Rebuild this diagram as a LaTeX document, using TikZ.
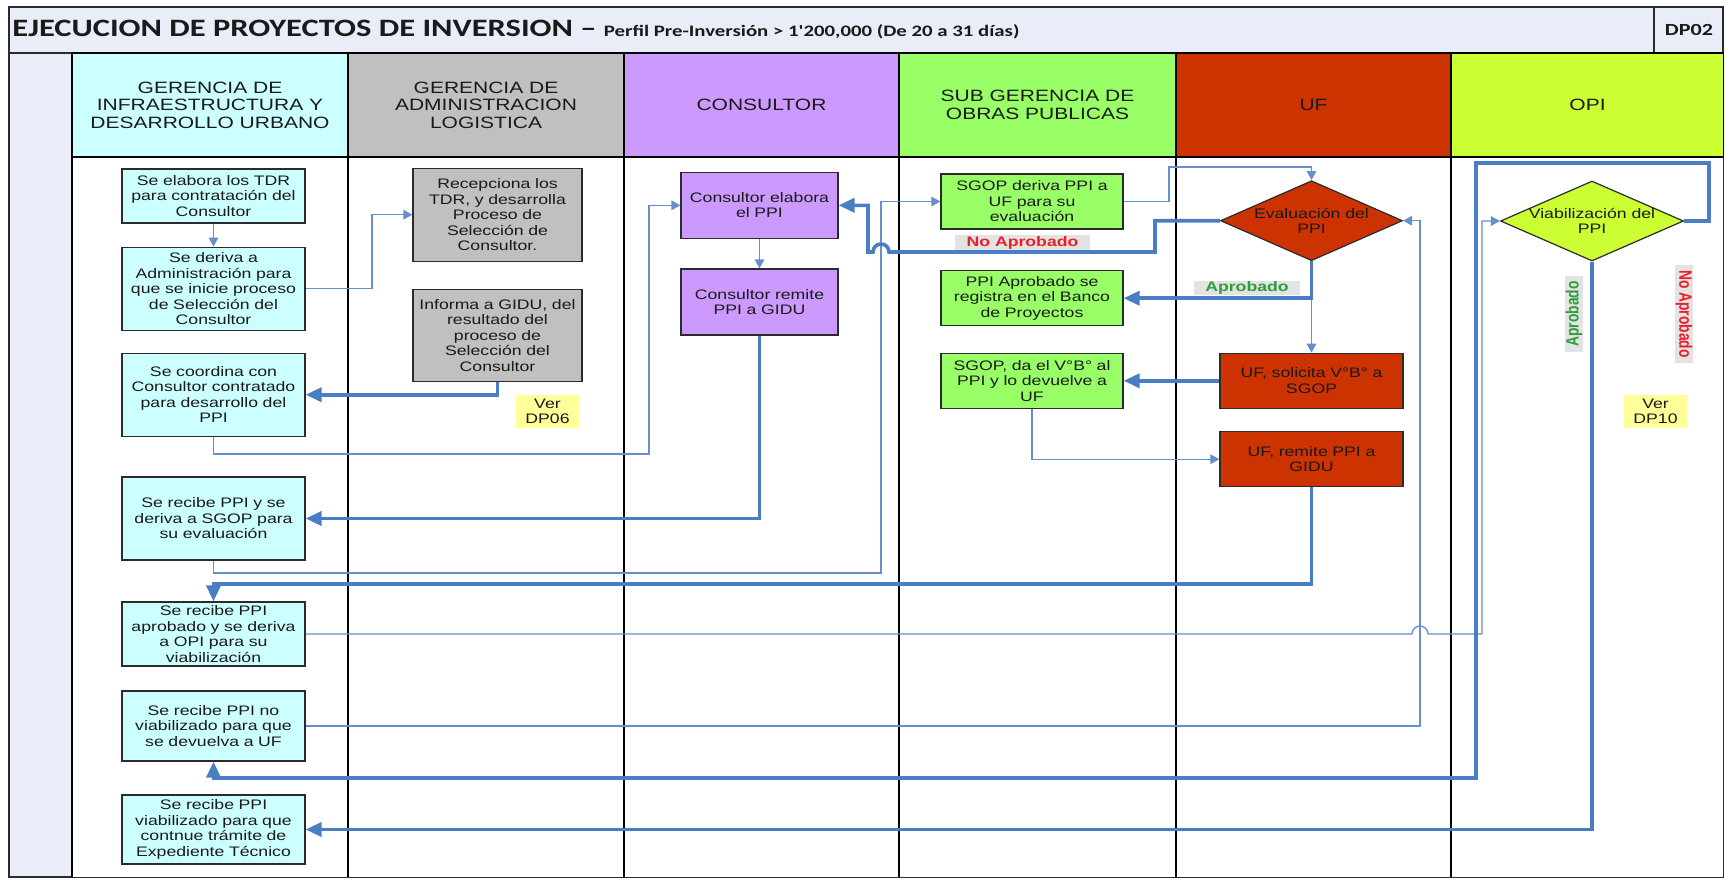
\documentclass[tikz,border=0pt]{standalone}
\usepackage{fontspec}
\setmainfont{Liberation Sans}[FakeStretch=1.28]
\newfontfamily\titulofont{Carlito}[FakeStretch=1.3]
\newfontfamily\girofont{Liberation Sans}
\usetikzlibrary{shapes.geometric,arrows.meta}
\definecolor{fondo}{HTML}{E9EDF7}
\definecolor{borde}{HTML}{2B2B2B}
\definecolor{texto}{HTML}{1A1A1A}
\definecolor{gidu}{HTML}{CCFFFF}
\definecolor{gal}{HTML}{C0C0C0}
\definecolor{cons}{HTML}{CC99FF}
\definecolor{sgop}{HTML}{99FF66}
\definecolor{uf}{HTML}{CC3300}
\definecolor{opi}{HTML}{CCFF33}
\definecolor{azul}{HTML}{4A7EC4}
\definecolor{azulc}{HTML}{6690CC}
\definecolor{rojo}{HTML}{E8202A}
\definecolor{verde}{HTML}{2E9E3A}
\definecolor{notaam}{HTML}{FFFF99}
\newcommand{\girado}[1]{\scalebox{1}[1.3]{#1}}
\begin{document}
\begin{tikzpicture}[x=0.5pt, y=-0.5pt,
                caja/.style={draw=borde, line width=0.6pt, inner xsep=0pt, inner ysep=0pt, align=center, text=texto, font=\fontsize{6.9}{7.75}\selectfont},
                cgidu/.style={caja, fill=gidu, text width=91.5pt},
                cgal/.style={caja, fill=gal, text width=84.5pt},
                ccons/.style={caja, fill=cons, text width=78.5pt},
                csgop/.style={caja, fill=sgop, text width=91pt},
                cuf/.style={caja, fill=uf, text width=91.5pt},
                decision/.style={diamond, draw=borde, line width=0.6pt, inner sep=0pt, minimum width=91pt, minimum height=40pt},
                dtexto/.style={align=center, inner sep=0pt, text=texto, font=\fontsize{6.9}{7.75}\selectfont},
                cabecera/.style={draw=black, line width=0.7pt, minimum width=138pt, minimum height=52pt, inner sep=0pt, align=center, text=texto, font=\fontsize{8.2}{8.8}\selectfont},
                etiqueta/.style={fill=gray!22, inner xsep=0pt, inner ysep=0.3pt, font=\bfseries\fontsize{6.9}{7}\selectfont},
                etigiro/.style={fill=gray!22, inner xsep=2.7pt, inner ysep=0.4pt, font=\girofont\bfseries\fontsize{6.9}{7}\selectfont},
                nota/.style={fill=notaam, align=center, text=texto, minimum width=31.5pt, minimum height=16.5pt, inner sep=0pt, font=\fontsize{6.9}{7.75}\selectfont},
                flujo/.style={draw=azulc, line width=0.65pt, -{Triangle[length=4.5pt,width=4.8pt]}},
                flujog/.style={draw=azul, line width=1.8pt, -{Triangle[length=8pt,width=7pt]}}]
                \useasboundingbox (0,0) rectangle (1726,880);
                \draw[fill=fondo, draw=borde, line width=0.7pt] (9,7) rectangle (1723,877);
                \draw[draw=borde, line width=0.7pt] (9,53) -- (1723,53);
                \draw[draw=borde, line width=0.7pt] (1654,7) -- (1654,53);
                \fill[white] (72,157) rectangle (1723,877);

                \node (T1) [anchor=base west, inner sep=0pt, text=texto, font=\titulofont\bfseries] at (12,36)
                {\fontsize{12.5}{14}\selectfont EJECUCION DE PROYECTOS DE INVERSION – {\fontsize{8}{9}\selectfont Perfil Pre-Inversión > 1'200,000 (De 20 a 31 días)}};
                \node (T2) [text=texto, font=\titulofont\bfseries\fontsize{8.5}{9}\selectfont] at (1689,30) {DP02};

                \node (H1) [cabecera, fill=gidu] at (210,105) {GERENCIA DE\\INFRAESTRUCTURA Y\\DESARROLLO URBANO};
                \node (H2) [cabecera, fill=gal] at (486,105) {GERENCIA DE\\ADMINISTRACION\\LOGISTICA};
                \node (H3) [cabecera, fill=cons] at (761.5,105) {CONSULTOR};
                \node (H4) [cabecera, fill=sgop] at (1037.5,105) {SUB GERENCIA DE\\OBRAS PUBLICAS};
                \node (H5) [cabecera, fill=uf] at (1313.5,105) {UF};
                \node (H6) [cabecera, fill=opi, minimum width=136pt] at (1587.5,105) {OPI};
                \foreach \x in {72,348,624,899,1176,1451}
                    \draw[line width=0.75pt] (\x,53) -- (\x,877);

                \node (G1) [cgidu, minimum height=27pt] at (213.5,196) {Se elabora los TDR\\para contratación del\\Consultor};
                \node (G2) [cgidu, minimum height=41.5pt] at (213.5,288.7) {Se deriva a\\Administración para\\que se inicie proceso\\de Selección del\\Consultor};
                \node (G3) [cgidu, minimum height=41.5pt] at (213.5,394.7) {Se coordina con\\Consultor contratado\\para desarrollo del\\PPI};
                \node (G4) [cgidu, minimum height=41.5pt] at (213.5,518.5) {Se recibe PPI y se\\deriva a SGOP para\\su evaluación};
                \node (G5) [cgidu, minimum height=32pt] at (213.5,634) {Se recibe PPI\\aprobado y se deriva\\a OPI para su\\viabilización};
                \node (G6) [cgidu, minimum height=35pt] at (213.5,726) {Se recibe PPI no\\viabilizado para que\\se devuelva a UF};
                \node (G7) [cgidu, minimum height=34.5pt] at (213.5,829.5) {Se recibe PPI\\viabilizado para que\\contnue trámite de\\Expediente Técnico};

                \node (A1) [cgal, minimum height=46.5pt] at (497.5,214.7) {Recepciona los\\TDR, y desarrolla\\Proceso de\\Selección de\\Consultor.};
                \node (A2) [cgal, minimum height=46pt] at (497.5,335.2) {Informa a GIDU, del\\resultado del\\proceso de\\Selección del\\Consultor};
                \node (V1) [nota] at (547.5,411.5) {Ver\\DP06};

                \node (C1) [ccons, minimum height=33pt] at (759.5,205.3) {Consultor elabora\\el PPI};
                \node (C2) [ccons, minimum height=33pt] at (759.5,302) {Consultor remite\\PPI a GIDU};

                \node (S1) [csgop, minimum height=27.5pt] at (1032,201.5) {SGOP deriva PPI a\\UF para su\\evaluación};
                \node (S2) [csgop, minimum height=27.5pt] at (1032,298.2) {PPI Aprobado se\\registra en el Banco\\de Proyectos};
                \node (S3) [csgop, minimum height=27.5pt] at (1032,380.8) {SGOP, da el V°B° al\\PPI y lo devuelve a\\UF};

                \node (D1) [decision, fill=uf] at (1311.5,220.7) {};
                \node (D1t) [dtexto] at (D1) {Evaluación del\\PPI};
                \node (U1) [cuf, minimum height=27.5pt] at (1311.5,380.8) {UF, solicita V°B° a\\SGOP};
                \node (U2) [cuf, minimum height=27.5pt] at (1311.5,459.2) {UF, remite PPI a\\GIDU};

                \node (D2) [decision, fill=opi, minimum width=91.5pt] at (1592,221) {};
                \node (D2t) [dtexto] at (D2) {Viabilización del\\PPI};
                \node (V2) [nota] at (1655.5,411.5) {Ver\\DP10};

                \node (L1) [etiqueta, text=rojo, minimum width=67.5pt] at (1022.5,242.5) {No Aprobado};
                \node (L2) [etiqueta, text=verde, minimum width=53pt] at (1247,288) {Aprobado};
                \node (L3) [etigiro, text=verde, rotate=90] at (1574,314) {\girado{Aprobado}};
                \node (L4) [etigiro, text=rojo, rotate=-90] at (1684,314) {\girado{No Aprobado}};

                \draw[flujo] (G1) -- (G2);
                \draw[flujo] (G2.east) -- (372,288.7) |- (A1.west);
                \draw[flujog] (A2.south) |- (G3.east);
                \draw[flujo] (G3.south) |- (649,454) |- (C1.west);
                \draw[flujo] (C1) -- (C2);
                \draw[flujog] (C2.south) |- (G4.east);
                \draw[flujo] (G4.south) |- (881,573) |- (S1.west);
                \draw[flujo] (S1.east) -| (1169,167) -| (D1.north);
                \draw[flujog] (D1.west) -| (1155,252) -- (889,252) arc[start angle=0, end angle=-180, radius=8] -- (868,252) |- (C1.east);
                \draw[flujo] (D1.south) -- (U1.north);
                \draw[flujog] (D1.south) |- (S2.east);
                \draw[flujog] (U1.west) -- (S3.east);
                \draw[flujo] (S3.south) |- (U2.west);
                \draw[flujog] (U2.south) -- (1311.5,584) -| (G5.north);
                \draw[flujo] (G5.east) -- (1412,634) arc[start angle=180, end angle=360, radius=8] -- (1482,634) |- (D2.west);
                \draw[flujo] (G6.east) -- (1420,726) |- (D1.east);
                \draw[flujog] (D2.east) -- (1709,221) |- (1476,163) -- (1476,778) -| (G6.south);
                \draw[flujog] (D2.south) |- (G7.east);
            \end{tikzpicture}
\end{document}
